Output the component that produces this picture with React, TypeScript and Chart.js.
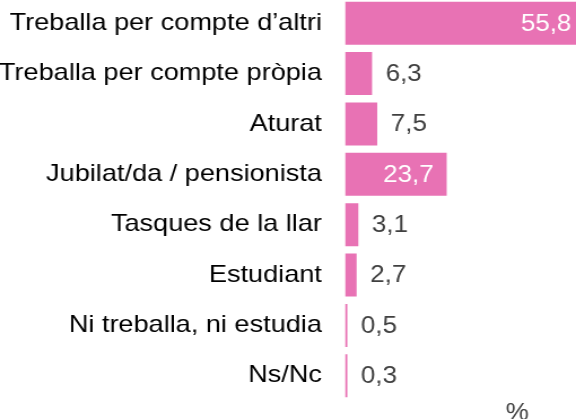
import React, { useEffect, useRef } from "react";
import { Chart, registerables } from "chart.js";

Chart.register(...registerables);

const categories = [
  "Treballa per compte d’altri",
  "Treballa per compte pròpia",
  "Aturat",
  "Jubilat/da / pensionista",
  "Tasques de la llar",
  "Estudiant",
  "Ni treballa, ni estudia",
  "Ns/Nc",
];
const values = [55.8, 6.3, 7.5, 23.7, 3.1, 2.7, 0.5, 0.3];
const unitLabel = "%";

const FONT = "'Liberation Sans', Arial, sans-serif";
const PINK = "#E872B4";
const LABEL_SIZE = 24;
const VALUE_SIZE = 23;

// The reference text is horizontally wider than the font; render narrower and stretch.
const CSS_W = 576;
const CSS_H = 421;
const CANVAS_W = 510;

const labelPlugin = {
  id: "valueLabels",
  afterDatasetsDraw(chart: any) {
    const ctx = chart.ctx;
    const meta = chart.getDatasetMeta(0);
    const area = chart.chartArea;
    ctx.save();
    ctx.font = `${VALUE_SIZE}px ${FONT}`;
    ctx.textBaseline = "middle";
    meta.data.forEach((bar: any, i: number) => {
      const v = values[i];
      const txt = v.toFixed(1).replace(".", ",");
      if (v > 20) {
        ctx.fillStyle = "#ffffff";
        ctx.textAlign = "right";
        ctx.fillText(txt, bar.x - 11.5, bar.y + 1);
      } else {
        ctx.fillStyle = "#404040";
        ctx.textAlign = "left";
        ctx.fillText(txt, bar.x + 12, bar.y + 1);
      }
    });
    ctx.fillStyle = "#404040";
    ctx.textAlign = "center";
    ctx.textBaseline = "alphabetic";
    ctx.fillText(unitLabel, area.left + (area.right - area.left) * 0.746, area.bottom + 19);
    ctx.restore();
  },
};

export default function App() {
  const ref = useRef<HTMLCanvasElement>(null);
  useEffect(() => {
    if (!ref.current) return;
    const chart = new Chart(ref.current, {
      type: "bar",
      data: {
        labels: categories,
        datasets: [
          {
            data: values,
            backgroundColor: PINK,
            borderWidth: 0,
            categoryPercentage: 0.853,
            barPercentage: 1,
            minBarLength: 2,
          },
        ],
      },
      options: {
        indexAxis: "y",
        animation: false,
        responsive: false,
        maintainAspectRatio: false,
        devicePixelRatio: 1,
        layout: { padding: { top: 0, bottom: 18, left: 0, right: 0 } },
        plugins: { legend: { display: false }, tooltip: { enabled: false } },
        scales: {
          x: { display: false, min: 0, max: 53.85 },
          y: {
            grid: { display: false, drawTicks: false },
            border: { display: false },
            ticks: {
              color: "#000000",
              font: { family: FONT, size: LABEL_SIZE },
              padding: 20.5,
              autoSkip: false,
            },
            afterFit(scale: any) {
              scale.width = 305.5;
              scale.paddingTop = 0;
              scale.paddingBottom = 0;
            },
          },
        },
      },
      plugins: [labelPlugin],
    });
    return () => chart.destroy();
  }, []);
  return (
    <div style={{ position: "fixed", left: 0, top: -2, width: CSS_W, height: CSS_H, background: "#fff" }}>
      <canvas
        ref={ref}
        width={CANVAS_W}
        height={CSS_H}
        style={{ display: "block", width: CSS_W, height: CSS_H }}
      />
    </div>
  );
}
